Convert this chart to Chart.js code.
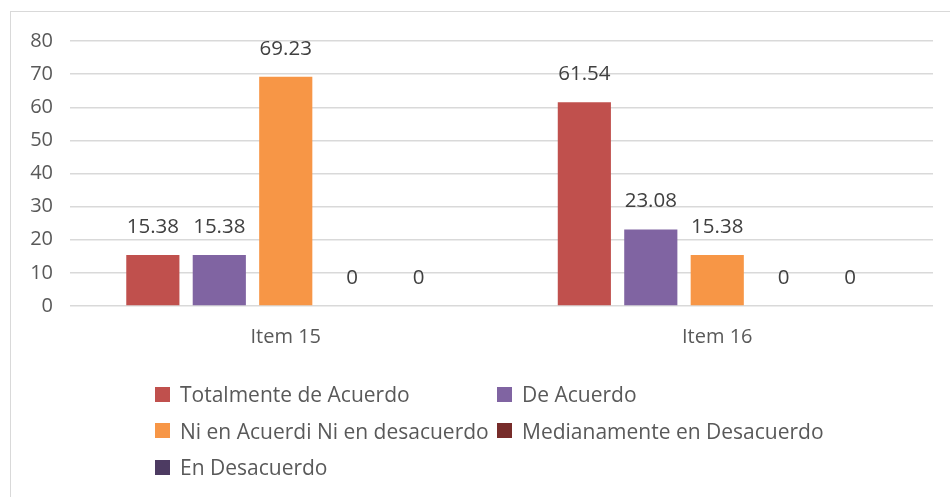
<!DOCTYPE html>
<html>
<head>
<meta charset="utf-8">
<script src="https://cdn.jsdelivr.net/npm/chart.js@4"></script>
<style>
    html, body { margin: 0; padding: 0; background: #fff; overflow: hidden; }
    #wrap { position: relative; width: 950px; height: 497px; }
    #frame {
        position: absolute; left: 10px; top: 11px; width: 1000px; height: 600px;
        border: 1.5px solid #d9d9d9; box-sizing: border-box;
    }
    #chart { position: absolute; left: 0; top: 0; }
    #legend {
        position: absolute; left: 155px; top: 376px;
        display: grid; grid-template-columns: 342px 340px; grid-auto-rows: 36.5px;
        font-family: 'Open Sans', sans-serif; font-size: 21px; color: #595959;
    }
    .item { display: flex; align-items: center; white-space: nowrap; }
    .box { width: 15px; height: 15px; margin-right: 10px; flex: none; }
</style>
</head>
<body>
<div id="wrap">
    <div id="frame"></div>
    <canvas id="chart" width="950" height="497"></canvas>
    <div id="legend"></div>
</div>
<script>
    // Данные
    const categories = ['Item 15', 'Item 16'];
    const seriesNames = [
        'Totalmente de Acuerdo',
        'De Acuerdo',
        'Ni en Acuerdi Ni en desacuerdo',
        'Medianamente en Desacuerdo',
        'En Desacuerdo'
    ];
    const totalmente = [15.38, 61.54];
    const deAcuerdo = [15.38, 23.08];
    const niNi = [69.23, 15.38];
    const medianamente = [0, 0];
    const enDesacuerdo = [0, 0];
    const yTicks = [0, 10, 20, 30, 40, 50, 60, 70, 80];

    const colors = ['#c0504d', '#8064a2', '#f79646', '#772c2a', '#4d3b62'];
    const font = "'Open Sans', sans-serif";

    // Подписи значений над столбцами
    const valueLabels = {
        id: 'valueLabels',
        afterDatasetsDraw(chart) {
            const ctx = chart.ctx;
            ctx.save();
            ctx.font = `20.5px ${font}`;
            ctx.fillStyle = '#404040';
            ctx.textAlign = 'center';
            ctx.textBaseline = 'middle';
            chart.data.datasets.forEach((ds, i) => {
                chart.getDatasetMeta(i).data.forEach((bar, j) => {
                    ctx.fillText(String(ds.data[j]), bar.x, bar.y - 28);
                });
            });
            ctx.restore();
        }
    };

    // HTML-легенда в две колонки
    const htmlLegend = {
        id: 'htmlLegend',
        afterUpdate(chart) {
            const el = document.getElementById('legend');
            el.innerHTML = chart.data.datasets.map(ds => `
                <div class="item"><span class="box" style="background:${ds.backgroundColor}"></span>${ds.label}</div>
            `).join('');
        }
    };

    const seriesData = [totalmente, deAcuerdo, niNi, medianamente, enDesacuerdo];

    new Chart(document.getElementById('chart'), {
        type: 'bar',
        data: {
            labels: categories,
            datasets: seriesData.map((data, i) => ({
                label: seriesNames[i],
                data,
                backgroundColor: colors[i],
                categoryPercentage: 0.77,
                barPercentage: 0.8
            }))
        },
        options: {
            responsive: false,
            animation: false,
            layout: { padding: { left: 10, right: 17, top: 41, bottom: 148 } },
            plugins: {
                legend: { display: false },
                tooltip: { enabled: false }
            },
            scales: {
                x: {
                    grid: { display: false, drawTicks: false },
                    border: { display: false },
                    ticks: { color: '#595959', font: { family: font, size: 20 }, padding: 19 },
                    afterFit: (s) => { s.height = 43; }
                },
                y: {
                    min: 0,
                    max: 80,
                    afterBuildTicks: (s) => { s.ticks = yTicks.map(v => ({ value: v })); },
                    grid: { color: '#d9d9d9', lineWidth: 1.5, drawTicks: false },
                    border: { display: false },
                    ticks: { color: '#595959', font: { family: font, size: 20 }, padding: 17 },
                    afterFit: (s) => { s.width = 60; }
                }
            }
        },
        plugins: [valueLabels, htmlLegend]
    });
</script>
</body>
</html>
